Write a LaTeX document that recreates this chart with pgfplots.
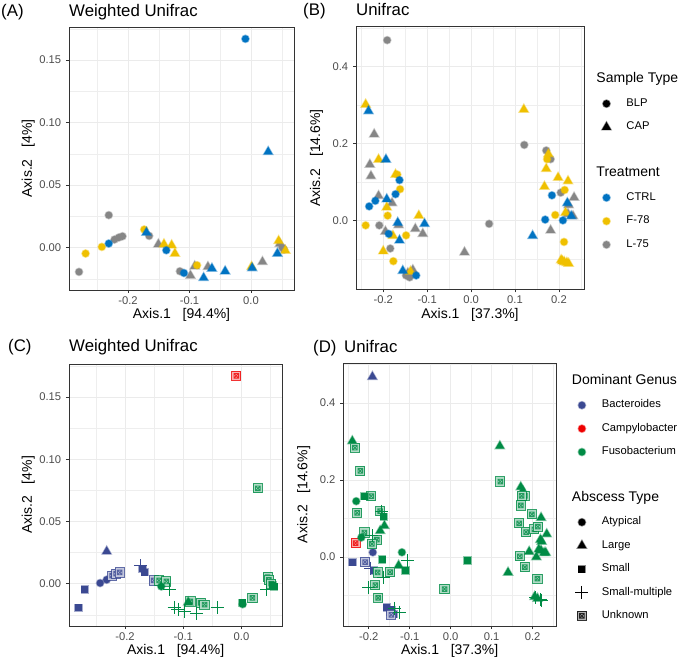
\documentclass[border=0pt]{standalone}
\usepackage{pgfplots}
\pgfplotsset{compat=1.18}
\usepackage{fontspec}
\setmainfont{Liberation Sans}
\definecolor{ctrl}{HTML}{0073C2}
\definecolor{f78}{HTML}{EFC000}
\definecolor{l75}{HTML}{868686}
\definecolor{bac}{HTML}{3B4992}
\definecolor{camp}{HTML}{EE0000}
\definecolor{fuso}{HTML}{008B45}
\definecolor{gtwenty}{HTML}{333333}
\definecolor{gthirty}{HTML}{4D4D4D}
\definecolor{gridc}{HTML}{EBEBEB}

\pgfdeclareplotmark{sqx}{%
  \pgfpathrectangle{\pgfqpoint{-\pgfplotmarksize}{-\pgfplotmarksize}}{\pgfqpoint{2\pgfplotmarksize}{2\pgfplotmarksize}}%
  \pgfusepathqfillstroke
  \pgfpathrectangle{\pgfqpoint{-.5\pgfplotmarksize}{-.5\pgfplotmarksize}}{\pgfqpoint{1\pgfplotmarksize}{1\pgfplotmarksize}}%
  \pgfpathmoveto{\pgfqpoint{-.5\pgfplotmarksize}{-.5\pgfplotmarksize}}%
  \pgfpathlineto{\pgfqpoint{.5\pgfplotmarksize}{.5\pgfplotmarksize}}%
  \pgfpathmoveto{\pgfqpoint{-.5\pgfplotmarksize}{.5\pgfplotmarksize}}%
  \pgfpathlineto{\pgfqpoint{.5\pgfplotmarksize}{-.5\pgfplotmarksize}}%
  \pgfusepathqstroke
}

\tikzset{
  pc/.style={only marks, mark=*, mark size=3.6pt, mark options={draw=#1, fill=#1, draw opacity=0.45, line width=1.5pt}},
  pt/.style={only marks, mark=triangle*, mark size=5.2pt, mark options={draw=#1, fill=#1, draw opacity=0.45, line width=1.4pt}},
  ps/.style={only marks, mark=square*, mark size=3.5pt, mark options={draw=#1, fill=#1, draw opacity=0.45, line width=1.4pt}},
  pp/.style={only marks, mark=+, mark size=6.5pt, mark options={draw=#1, line width=0.9pt}},
  px/.style={only marks, mark=sqx, mark size=4.6pt, mark options={draw=#1, fill=#1!30, draw opacity=0.8, line width=0.9pt}},
}

\pgfplotsset{
  panel/.style={
    scale only axis, anchor=south west,
    axis line style={draw=gtwenty, line width=0.6pt},
    tick pos=left, tick align=outside,
    major tick length=3pt, minor tick length=0pt,
    tick style={draw=gtwenty, line width=0.5pt},
    grid=both,
    major grid style={draw=gridc, line width=0.6pt},
    minor grid style={draw=gridc!85!white, line width=0.3pt},
    ticklabel style={font=\fontsize{11.2}{13}\selectfont, text=gthirty},
    xticklabel style={yshift=1.5pt},
    label style={font=\fontsize{14}{16}\selectfont},
    xlabel shift=-5pt,
    legend image code/.code={\draw[##1] plot coordinates {(0pt,0pt)};},
    legend cell align=left,
  },
  wuni/.style={xmin=-0.296, xmax=0.070, ymin=-0.0340, ymax=0.1765,
    xtick={-0.2,-0.1,0}, xticklabels={-0.2,-0.1,0.0},
    minor xtick={-0.25,-0.15,-0.05,0.05},
    ytick={0,0.05,0.1,0.15}, yticklabels={0.00,0.05,0.10,0.15},
    minor ytick={-0.025,0.025,0.075,0.125,0.175},
    ylabel shift=-5pt,
    xlabel={Axis.1\ \ \ [94.4\%]}, ylabel={Axis.2\ \ \ [4\%]}},
  uni/.style={xmin=-0.262, xmax=0.257, ymin=-0.179, ymax=0.503,
    xtick={-0.2,-0.1,0,0.1,0.2}, xticklabels={-0.2,-0.1,0.0,0.1,0.2},
    minor xtick={-0.25,-0.15,-0.05,0.05,0.15,0.25},
    ytick={0,0.2,0.4}, yticklabels={0.0,0.2,0.4},
    minor ytick={-0.1,0.1,0.3,0.5},
    xlabel={Axis.1\ \ \ [37.3\%]}, ylabel={Axis.2\ \ \ [14.6\%]}},
}

\begin{document}
\begin{tikzpicture}
\fontsize{14}{16}\selectfont

% ---------------- (A) ----------------
\begin{axis}[panel, wuni, at={(69pt,373pt)}, width=225pt, height=263pt]
\addplot[pc=l75, forget plot] table {
x y
-0.2313 0.0259
-0.2797 -0.0195
-0.222 0.0064
-0.215 0.008
-0.209 0.009
-0.1656 0.0093
-0.1156 -0.019
0.0537 -0.0016
0.051 0.0
};
\addplot[pt=l75, forget plot] table {
x y
-0.1506 0.0026
-0.0984 -0.0225
-0.0915 -0.015
-0.070 -0.0155
0.0187 -0.0115
0.047 0.003
};
\addplot[pc=f78, forget plot] table {
x y
-0.269 -0.0048
-0.2426 0.0005
-0.1737 0.0144
-0.0877 -0.0142
};
\addplot[pt=f78, forget plot] table {
x y
-0.1415 0.0026
-0.129 0.0018
-0.1237 -0.0048
0.001 -0.0155
0.045 0.0053
0.056 -0.0025
};
\addplot[pc=ctrl, forget plot] table {
x y
-0.009 0.167
-0.2313 0.0032
-0.1377 -0.0022
-0.109 -0.0204
};
\addplot[pt=ctrl, forget plot] table {
x y
0.028 0.0766
-0.170 0.012
-0.077 -0.0243
-0.0635 -0.0168
-0.042 -0.019
0.002 -0.0165
0.043 -0.0048
};
\end{axis}

% ---------------- (B) ----------------
\begin{axis}[panel, uni, at={(356pt,373.7pt)}, width=228pt, height=262.6pt,
  legend style={draw=none, fill=none, at={(1.078,0.8418)}, anchor=north west,
    inner sep=0pt, row sep=0pt, column sep=15.5pt,
    font=\fontsize{11.2}{13}\selectfont,
    nodes={inner sep=0pt, text height=8pt, text depth=2.5pt, minimum height=23.5pt}}]
\addplot[pc=l75, forget plot] table {
x y
-0.191 0.468
-0.209 -0.013
-0.184 -0.073
-0.148 -0.143
-0.140 -0.148
0.041 -0.009
0.121 0.196
0.171 0.1815
0.181 0.159
0.204 0.072
};
\addplot[pt=l75, forget plot] table {
x y
-0.2206 0.2236
-0.2305 0.145
-0.228 0.115
-0.2106 0.0636
-0.180 0.045
-0.195 -0.029
-0.165 -0.012
-0.127 -0.022
-0.110 -0.035
-0.144 -0.137
-0.1326 -0.129
-0.015 -0.083
0.2344 0.0595
0.222 0.040
0.2206 0.0167
0.232 0.011
0.181 -0.026
};
\addplot[pc=f78, forget plot] table {
x y
-0.1617 0.081
-0.190 0.0123
-0.240 -0.013
-0.148 -0.039
-0.177 -0.106
-0.168 0.119
0.173 0.159
0.213 0.079
0.1915 0.014
0.2115 -0.056
};
\addplot[pt=f78, forget plot] table {
x y
-0.240 0.301
-0.2106 0.158
-0.172 0.119
-0.192 0.034
-0.119 0.0123
-0.178 -0.040
-0.200 -0.080
-0.138 -0.133
0.120 0.288
0.176 0.172
0.171 0.134
0.198 0.111
0.2206 0.102
0.167 0.0877
0.215 0.020
0.205 -0.103
0.212 -0.108
0.218 -0.110
0.222 -0.112
0.208 -0.106
};
\addplot[pc=ctrl, forget plot] table {
x y
-0.218 0.0508
-0.232 0.0364
-0.163 0.1046
-0.172 0.068
-0.1876 -0.035
-0.125 -0.143
0.184 0.065
0.1686 0.002
0.209 0.0
};
\addplot[pt=ctrl, forget plot] table {
x y
-0.2335 0.284
-0.1938 0.158
-0.192 0.055
-0.167 -0.006
-0.106 -0.009
-0.163 -0.052
-0.1555 -0.131
0.219 0.045
0.140 -0.040
0.228 0.011
};
\addlegendimage{empty legend}\addlegendentry{\hspace*{-30pt}\fontsize{14}{16}\selectfont Sample Type}
\addlegendimage{pc=black}\addlegendentry{BLP}
\addlegendimage{pt=black}\addlegendentry{CAP}
\addlegendimage{empty legend}\addlegendentry{}
\addlegendimage{empty legend}\addlegendentry{\hspace*{-30pt}\fontsize{14}{16}\selectfont Treatment}
\addlegendimage{pc=ctrl}\addlegendentry{CTRL}
\addlegendimage{pc=f78}\addlegendentry{F-78}
\addlegendimage{pc=l75}\addlegendentry{L-75}
\end{axis}

% ---------------- (C) ----------------
\begin{axis}[panel, wuni, at={(69pt,37pt)}, width=213.3pt, height=262pt]
\addplot[pc=bac, forget plot] table {
x y
-0.2426 0.0005
-0.2313 0.0032
};
\addplot[pt=bac, forget plot] table {
x y
-0.2313 0.0259
};
\addplot[ps=bac, forget plot] table {
x y
-0.269 -0.0048
-0.2797 -0.0195
-0.1656 0.0093
-0.170 0.012
};
\addplot[px=bac, forget plot] table {
x y
-0.222 0.0064
-0.215 0.008
-0.209 0.009
-0.1506 0.0026
};
\addplot[pp=bac, forget plot] table {
x y
-0.1737 0.0144
};
\addplot[px=camp, forget plot] table {
x y
-0.009 0.167
};
\addplot[px=fuso, forget plot] table {
x y
0.028 0.0766
-0.1415 0.0026
-0.129 0.0018
-0.0877 -0.0142
-0.070 -0.0155
-0.0635 -0.0168
0.0187 -0.0115
0.045 0.0053
0.047 0.003
0.051 0.0
};
\addplot[pc=fuso, forget plot] table {
x y
-0.1377 -0.0022
0.002 -0.0165
};
\addplot[ps=fuso, forget plot] table {
x y
0.001 -0.0155
0.0537 -0.0016
0.056 -0.0025
};
\addplot[pt=fuso, forget plot] table {
x y
-0.0915 -0.015
};
\addplot[pp=fuso, forget plot] table {
x y
-0.1237 -0.0048
-0.1156 -0.019
-0.109 -0.0204
-0.0984 -0.0225
-0.077 -0.0243
-0.042 -0.019
0.043 -0.0048
};
\end{axis}

% ---------------- (D) ----------------
\begin{axis}[panel, uni, at={(343.3pt,37pt)}, width=212.7pt, height=262.7pt,
  legend style={draw=none, fill=none, at={(1.0903,0.9747)}, anchor=north west,
    inner sep=0pt, row sep=0pt, column sep=13.5pt,
    font=\fontsize{11.2}{13}\selectfont,
    nodes={inner sep=0pt, text height=8pt, text depth=2.5pt, minimum height=23.4pt}}]
\addplot[pt=bac, forget plot] table {
x y
-0.191 0.468
};
\addplot[pc=bac, forget plot] table {
x y
-0.190 0.0123
};
\addplot[ps=bac, forget plot] table {
x y
-0.240 -0.013
-0.1876 -0.035
-0.148 -0.143
-0.140 -0.148
-0.1555 -0.131
-0.144 -0.137
};
\addplot[px=bac, forget plot] table {
x y
-0.209 -0.013
-0.145 -0.150
};
\addplot[pp=bac, forget plot] table {
x y
-0.195 -0.029
};
\addplot[px=camp, forget plot] table {
x y
-0.232 0.0364
};
\addplot[pt=fuso, forget plot] table {
x y
-0.240 0.301
-0.1617 0.081
-0.172 0.068
-0.127 -0.022
0.120 0.288
0.171 0.1815
0.176 0.172
0.2206 0.102
0.1915 0.014
0.140 -0.040
0.2344 0.0595
0.222 0.040
0.219 0.045
0.2206 0.0167
0.232 0.011
0.228 0.011
0.215 0.020
0.209 0.0
0.205 -0.103
0.212 -0.108
};
\addplot[px=fuso, forget plot] table {
x y
-0.2335 0.284
-0.2206 0.2236
-0.1938 0.158
-0.228 0.115
-0.172 0.119
-0.2106 0.0636
-0.180 0.045
-0.192 0.034
-0.178 -0.040
-0.148 -0.039
-0.184 -0.073
-0.177 -0.106
-0.015 -0.083
0.121 0.196
0.181 0.159
0.173 0.159
0.171 0.134
0.198 0.111
0.167 0.0877
0.184 0.065
0.204 0.072
0.213 0.079
0.1686 0.002
0.181 -0.026
0.2115 -0.056
};
\addplot[pc=fuso, forget plot] table {
x y
-0.2305 0.145
-0.218 0.0508
-0.119 0.0123
};
\addplot[ps=fuso, forget plot] table {
x y
-0.2106 0.158
-0.163 0.1046
-0.167 -0.006
-0.110 -0.035
0.041 -0.009
};
\addplot[pp=fuso, forget plot] table {
x y
-0.168 0.119
-0.192 0.055
-0.163 -0.052
-0.106 -0.009
-0.200 -0.080
-0.125 -0.143
0.218 -0.110
0.222 -0.112
0.208 -0.106
-0.138 -0.133
};
\addlegendimage{empty legend}\addlegendentry{\hspace*{-30pt}\fontsize{14}{16}\selectfont Dominant Genus}
\addlegendimage{pc=bac}\addlegendentry{Bacteroides}
\addlegendimage{pc=camp}\addlegendentry{Campylobacter}
\addlegendimage{pc=fuso}\addlegendentry{Fusobacterium}
\addlegendimage{empty legend}\addlegendentry{}
\addlegendimage{empty legend}\addlegendentry{\hspace*{-30pt}\fontsize{14}{16}\selectfont Abscess Type}
\addlegendimage{pc=black}\addlegendentry{Atypical}
\addlegendimage{pt=black}\addlegendentry{Large}
\addlegendimage{ps=black}\addlegendentry{Small}
\addlegendimage{pp=black}\addlegendentry{Small-multiple}
\addlegendimage{px=black}\addlegendentry{Unknown}
\end{axis}

% titles
\begin{scope}[every node/.style={inner sep=0pt, anchor=base west, font=\fontsize{16.8}{20}\selectfont}]
\node at (1pt,646.3pt) {(A)};
\node at (69pt,646.3pt) {Weighted Unifrac};
\node at (303pt,647pt) {(B)};
\node at (356pt,647pt) {Unifrac};
\node at (8pt,311.3pt) {(C)};
\node at (69pt,311.3pt) {Weighted Unifrac};
\node at (313pt,310.3pt) {(D)};
\node at (344pt,310.3pt) {Unifrac};
\end{scope}

\pgfresetboundingbox
\useasboundingbox (0,0) rectangle (682pt,663pt);
\end{tikzpicture}
\end{document}
